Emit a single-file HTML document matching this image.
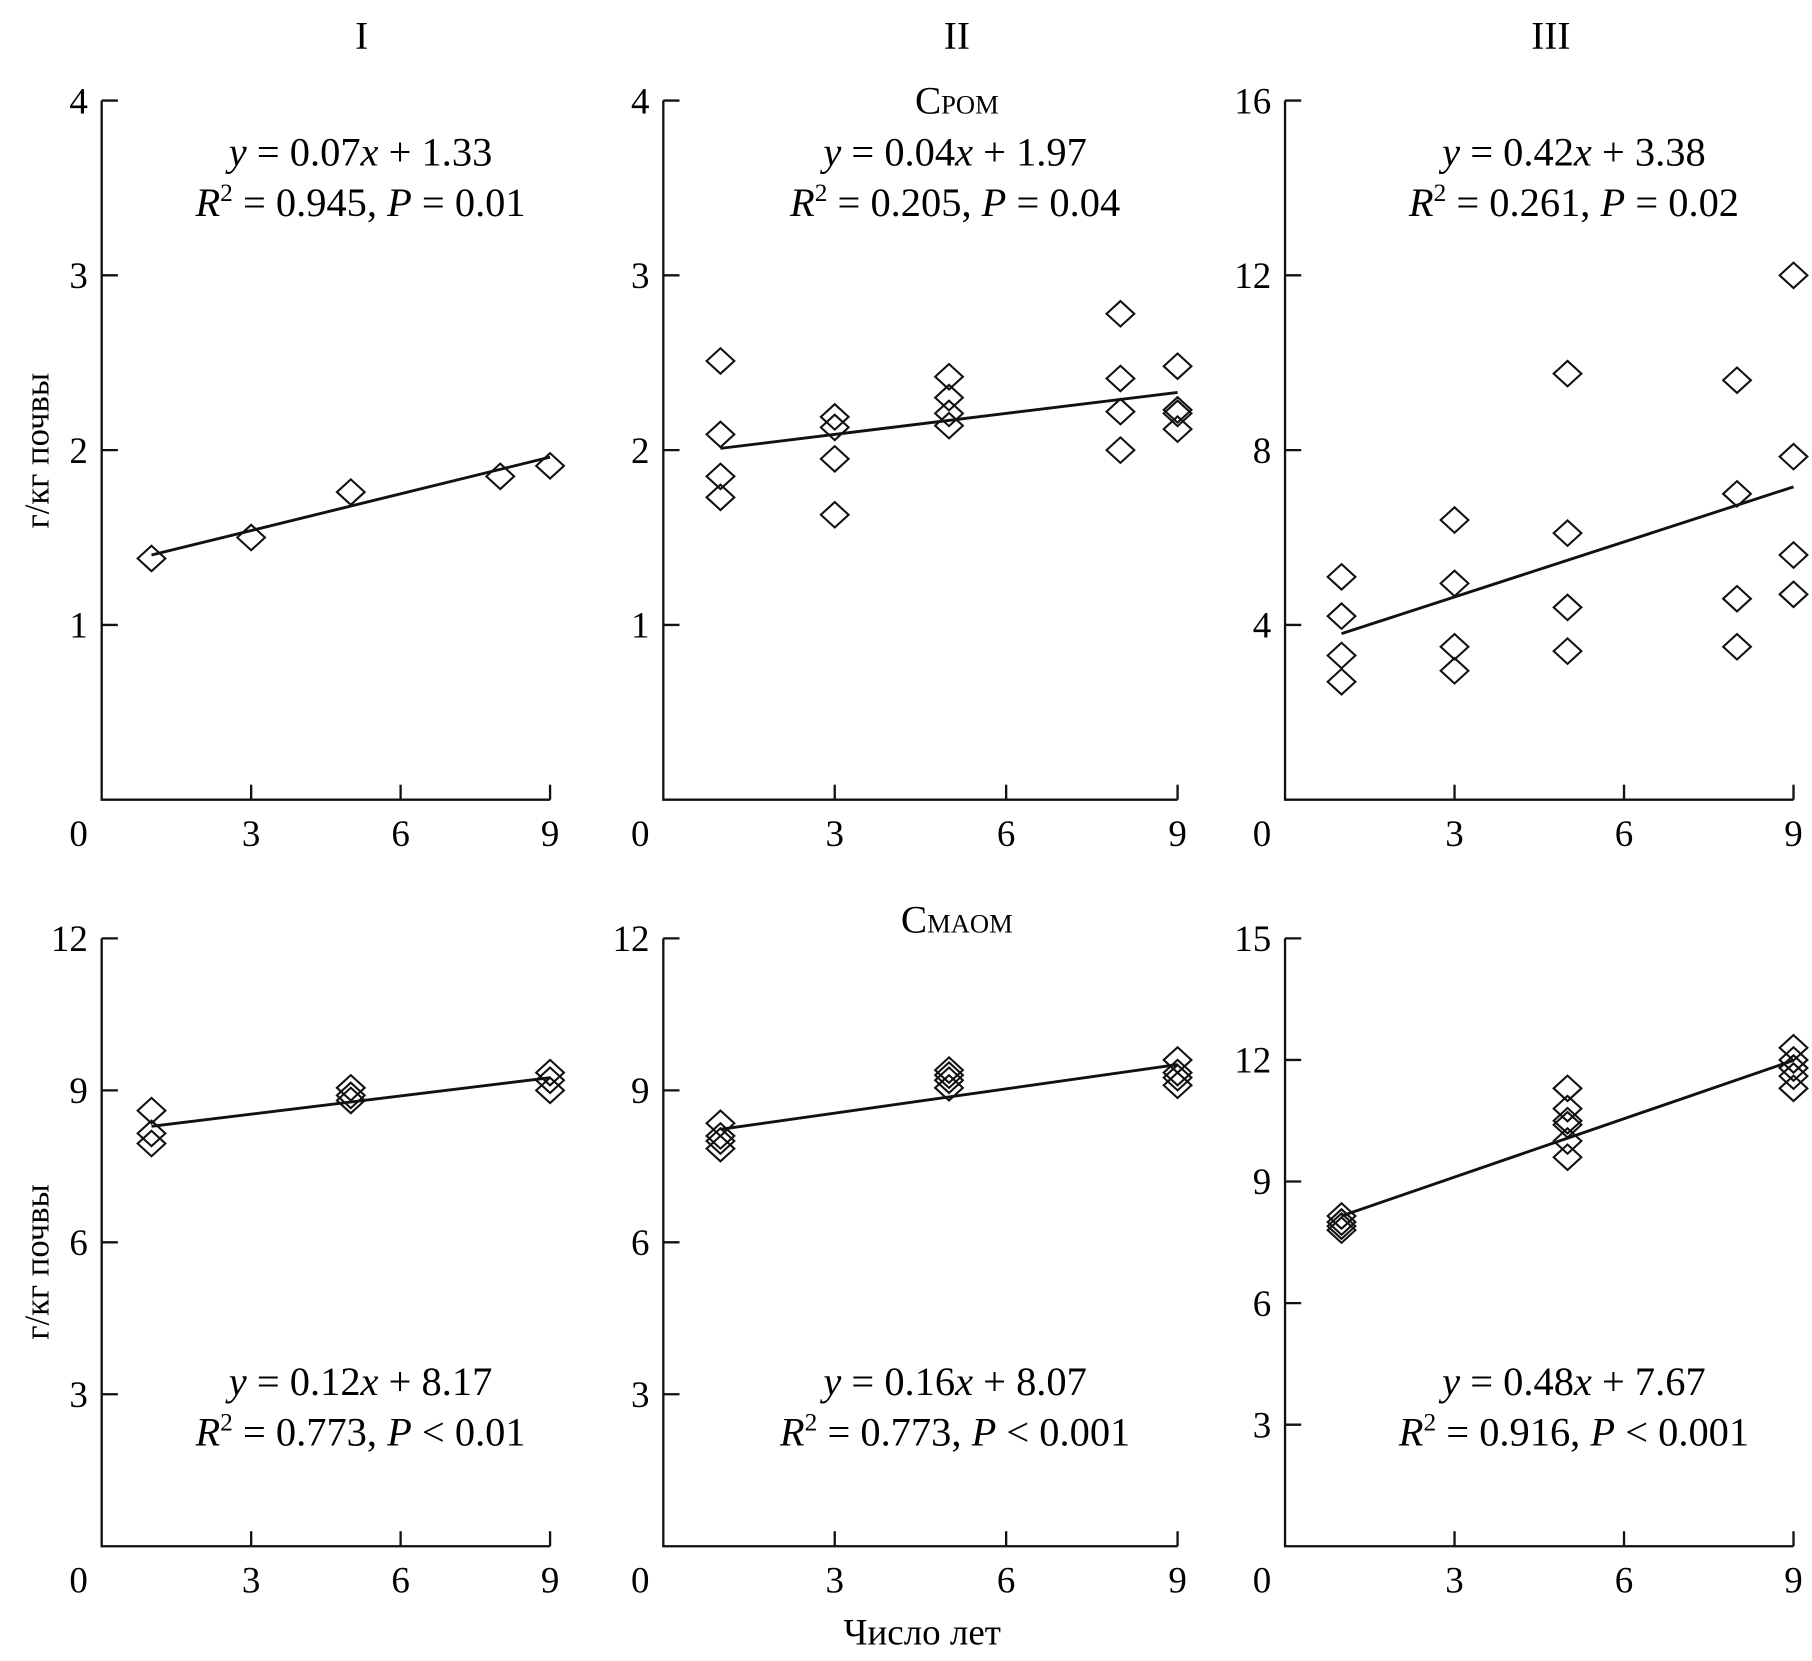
<!DOCTYPE html>
<html><head><meta charset="utf-8"><style>
html,body{margin:0;padding:0;background:#fff;}
svg{display:block;font-family:"Liberation Serif",serif;}
</style></head><body>
<svg id="chart" width="1812" height="1661" viewBox="0 0 1568 1437.3" preserveAspectRatio="none" xmlns="http://www.w3.org/2000/svg">
<text x="313" y="42" font-size="34" text-anchor="middle">I</text>
<text x="828" y="42" font-size="34" text-anchor="middle">II</text>
<text x="1342" y="42" font-size="34" text-anchor="middle">III</text>
<text x="828" y="98" font-size="34" text-anchor="middle">C<tspan font-size="23">POM</tspan></text>
<text x="828" y="807" font-size="34" text-anchor="middle">C<tspan font-size="23">MAOM</tspan></text>
<text transform="translate(42,390) rotate(-90)" font-size="30" text-anchor="middle">г/кг почвы</text>
<text transform="translate(42,1092) rotate(-90)" font-size="30" text-anchor="middle">г/кг почвы</text>
<text x="798" y="1423" font-size="32" text-anchor="middle">Число лет</text>
<g id="plots"></g>
</svg>
<script>
// Panel data (x = years, y = g/kg soil)
const xTicks = [3, 6, 9];
const p1x = [1, 3, 5, 8, 9];
const p1y = [1.38, 1.50, 1.76, 1.85, 1.91];
const p2x = [1,1,1,1, 3,3,3,3, 5,5,5,5, 8,8,8,8, 9,9,9,9];
const p2y = [2.51,2.09,1.85,1.73, 2.19,2.13,1.95,1.63, 2.42,2.30,2.21,2.14, 2.78,2.41,2.22,2.00, 2.48,2.23,2.21,2.12];
const p3x = [1,1,1,1, 3,3,3,3, 5,5,5,5, 8,8,8,8, 9,9,9,9];
const p3y = [5.1,4.2,3.3,2.7, 6.4,4.95,3.5,2.95, 9.75,6.1,4.4,3.4, 9.6,7.0,4.6,3.5, 12.0,7.85,5.6,4.7];
const p4x = [1,1,1, 5,5,5, 9,9,9];
const p4y = [8.6,8.15,7.95, 9.05,8.9,8.8, 9.35,9.2,9.0];
const p5x = [1,1,1,1, 5,5,5,5, 9,9,9,9];
const p5y = [8.35,8.1,8.0,7.85, 9.4,9.3,9.2,9.05, 9.6,9.35,9.25,9.1];
const p6x = [1,1,1,1, 5,5,5,5,5,5, 9,9,9,9,9];
const p6y = [8.15,8.0,7.9,7.8, 11.3,10.8,10.5,10.4,10.0,9.6, 12.3,12.0,11.8,11.6,11.3];
const slopes = [0.07, 0.04, 0.42, 0.12, 0.16, 0.48];
const intercepts = [1.33, 1.97, 3.38, 8.17, 8.07, 7.67];
const yTicks1 = [1,2,3,4];
const yTicks3 = [4,8,12,16];
const yTicksB = [3,6,9,12];
const yTicks6 = [3,6,9,12,15];
const eqLines = [
 ["0.07","1.33","0.945","=","0.01"],
 ["0.04","1.97","0.205","=","0.04"],
 ["0.42","3.38","0.261","=","0.02"],
 ["0.12","8.17","0.773","<","0.01"],
 ["0.16","8.07","0.773","<","0.001"],
 ["0.48","7.67","0.916","<","0.001"]
];

const NS = "http://www.w3.org/2000/svg";
const root = document.getElementById('plots');
function mk(tag, attrs, parent){
  const e = document.createElementNS(NS, tag);
  for (const k in attrs) e.setAttribute(k, attrs[k]);
  (parent||root).appendChild(e);
  return e;
}
const panels = [
 {xs:p1x, ys:p1y, left:88,  right:476,  top:87,  bottom:692,  ymax:4,  yt:yTicks1, eqY:143},
 {xs:p2x, ys:p2y, left:574, right:1019, top:87,  bottom:692,  ymax:4,  yt:yTicks1, eqY:143},
 {xs:p3x, ys:p3y, left:1112,right:1552, top:87,  bottom:692,  ymax:16, yt:yTicks3, eqY:143},
 {xs:p4x, ys:p4y, left:88,  right:476,  top:812, bottom:1338, ymax:12, yt:yTicksB, eqY:1207},
 {xs:p5x, ys:p5y, left:574, right:1019, top:812, bottom:1338, ymax:12, yt:yTicksB, eqY:1207},
 {xs:p6x, ys:p6y, left:1112,right:1552, top:812, bottom:1338, ymax:15, yt:yTicks6, eqY:1207}
];
panels.forEach((p, i) => {
  const g = mk('g', {});
  
  
  const sx = v => p.left + (p.right - p.left) * v / 9;
  const sy = v => p.bottom - (p.bottom - p.top) * v / p.ymax;
  const ax = mk('path', {d:`M${p.left},${p.top}V${p.bottom}H${p.right}`, fill:'none', stroke:'#111', 'stroke-width':2}, g);
  
  
  p.yt.forEach(t => {
    const y = sy(t);
    mk('line', {x1:p.left, x2:p.left+14, y1:y, y2:y, stroke:'#111', 'stroke-width':2}, g);
    const tx = mk('text', {x:p.left-12, y:y+11, 'font-size':32, 'text-anchor':'end'}, g);
    tx.textContent = t;
    
    
  });
  xTicks.forEach(t => {
    const x = sx(t);
    mk('line', {x1:x, x2:x, y1:p.bottom, y2:p.bottom-13, stroke:'#111', 'stroke-width':2}, g);
    const tx = mk('text', {x:x, y:p.bottom+40, 'font-size':32, 'text-anchor':'middle'}, g);
    tx.textContent = t;
    
    
  });
  const z = mk('text', {x:p.left-12, y:p.bottom+40, 'font-size':32, 'text-anchor':'end'}, g);
  z.textContent = '0';
  
  
  const ln = mk('line', {x1:sx(1), x2:sx(9), y1:sy(intercepts[i]+slopes[i]*1), y2:sy(intercepts[i]+slopes[i]*9), stroke:'#111', 'stroke-width':2.5}, g);
  
  
  p.xs.forEach((xv, j) => {
    const cx = sx(xv), cy = sy(p.ys[j]);
    const d = mk('path', {d:`M${cx-12},${cy}L${cx},${cy-11}L${cx+12},${cy}L${cx},${cy+11}Z`, fill:'none', stroke:'#111', 'stroke-width':1.8}, g);
    
    
  });
  const e = eqLines[i];
  const cxm = (p.left + p.right) / 2 + 30;
  const t1 = mk('text', {x:cxm, y:p.eqY, 'font-size':35, 'text-anchor':'middle'}, g);
  t1.innerHTML = `<tspan font-style="italic">y</tspan> = ${e[0]}<tspan font-style="italic">x</tspan> + ${e[1]}`;
  
  
  const t2 = mk('text', {x:cxm, y:p.eqY+44, 'font-size':35, 'text-anchor':'middle'}, g);
  t2.innerHTML = `<tspan font-style="italic">R</tspan><tspan font-size="22" dy="-13">2</tspan><tspan dy="13"> = ${e[2]}, </tspan><tspan font-style="italic">P</tspan> ${e[3]} ${e[4]}`;
  
  
});
</script>
</body></html>
